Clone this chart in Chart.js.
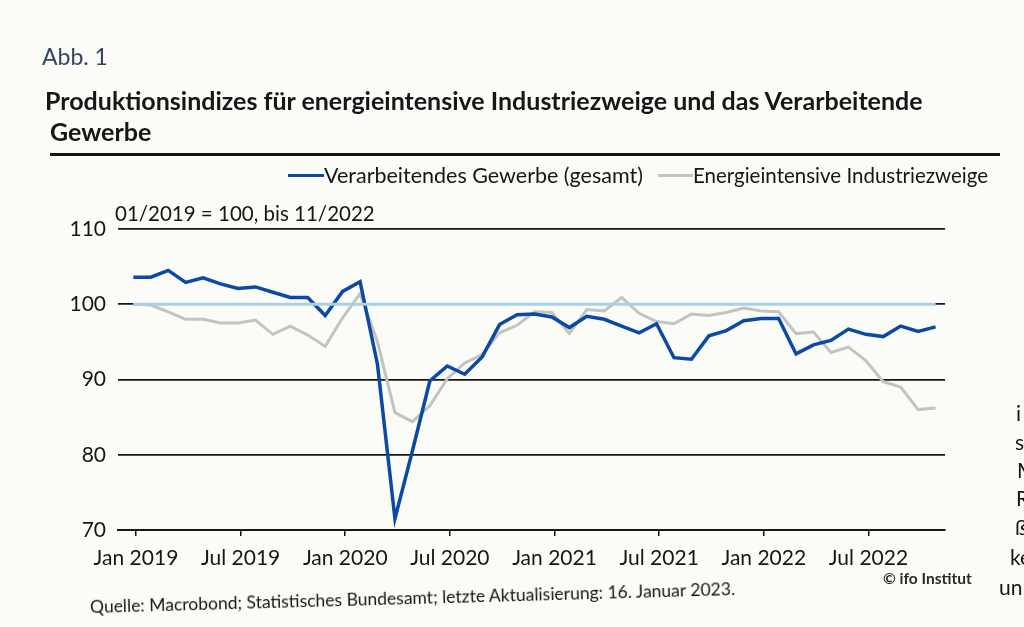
<!DOCTYPE html>
<html lang="de">
<head>
<meta charset="utf-8">
<title>Produktionsindizes</title>
<script src="https://cdn.jsdelivr.net/npm/chart.js@4.4.1/dist/chart.umd.min.js"></script>
<style>
  html, body { margin: 0; padding: 0; }
  body {
    width: 1024px; height: 627px; overflow: hidden; position: relative;
    background: #fbfbf8; font-family: Lato, "Noto Sans", sans-serif; color: #161616;
  }
  .txt { position: absolute; white-space: nowrap; line-height: 28px; }
  #chart { position: absolute; left: 0; top: 0; }
  .swatch { position: absolute; height: 3px; }
</style>
</head>
<body>
<canvas id="chart" width="1024" height="627"></canvas>

<div class="txt" style="left:42px; top:42px; font-size:23px; color:#34465f;">Abb. 1</div>
<div class="txt" style="left:45px; top:86px; font-size:25px; font-weight:bold;">Produktionsindizes für energieintensive Industriezweige und das Verarbeitende</div>
<div class="txt" style="left:50px; top:117px; font-size:25px; font-weight:bold;">Gewerbe</div>
<div style="position:absolute; left:50px; top:153px; width:950px; height:2.5px; background:#151515;"></div>

<div id="legend"></div>

<div class="txt" style="left:115px; top:199px; font-size:20.5px;">01/2019 = 100, bis 11/2022</div>

<div class="txt" style="left:90px; top:593px; font-size:17.5px; transform-origin:0 50%; transform:rotate(-1.6deg);">Quelle: Macrobond; Statistisches Bundesamt; letzte Aktualisierung: 16. Januar 2023.</div>
<div class="txt" style="left:883px; top:564px; font-size:15.5px; font-weight:bold; color:#2a2a2a;">© ifo Institut</div>

<div class="txt" style="left:1016px; top:399px; font-size:21px;">i</div>
<div class="txt" style="left:1015px; top:428px; font-size:21px;">s</div>
<div class="txt" style="left:1017px; top:456px; font-size:21px;">M</div>
<div class="txt" style="left:1016px; top:484px; font-size:21px;">R</div>
<div class="txt" style="left:1015px; top:513px; font-size:21px;">ß</div>
<div class="txt" style="left:1010px; top:543px; font-size:21px;">ke</div>
<div class="txt" style="left:999px; top:573px; font-size:21px;">un</div>

<script>
// Monthly data, 01/2019 = 100
const months = [
  "01/2019", "02/2019", "03/2019", "04/2019", "05/2019", "06/2019", "07/2019", "08/2019", "09/2019", "10/2019", "11/2019", "12/2019",
  "01/2020", "02/2020", "03/2020", "04/2020", "05/2020", "06/2020", "07/2020", "08/2020", "09/2020", "10/2020", "11/2020", "12/2020",
  "01/2021", "02/2021", "03/2021", "04/2021", "05/2021", "06/2021", "07/2021", "08/2021", "09/2021", "10/2021", "11/2021", "12/2021",
  "01/2022", "02/2022", "03/2022", "04/2022", "05/2022", "06/2022", "07/2022", "08/2022", "09/2022", "10/2022", "11/2022"
];

const gewerbe = [
  103.6, 103.6, 104.5, 102.9, 103.5, 102.7, 102.1, 102.3, 101.6, 100.9, 100.9, 98.5,
  101.7, 103.0, 92.0, 71.5, 80.5, 89.8, 91.8, 90.7, 93.0, 97.3, 98.6, 98.7,
  98.3, 96.9, 98.4, 98.0, 97.1, 96.2, 97.4, 92.9, 92.7, 95.8, 96.5, 97.8,
  98.1, 98.1, 93.4, 94.6, 95.2, 96.7, 96.0, 95.7, 97.1, 96.4, 97.0
];

const energie = [
  100.0, 99.9, 99.0, 98.0, 98.0, 97.5, 97.5, 97.9, 96.0, 97.1, 95.9, 94.4,
  98.2, 101.4, 95.0, 85.6, 84.4, 86.5, 90.1, 92.2, 93.3, 96.2, 97.2, 99.0,
  98.9, 96.1, 99.3, 99.1, 100.9, 98.8, 97.7, 97.4, 98.7, 98.5, 98.9, 99.5,
  99.1, 99.0, 96.1, 96.3, 93.6, 94.3, 92.5, 89.7, 89.0, 86.0, 86.2
];

const tickMonths = ["01/2019", "07/2019", "01/2020", "07/2020", "01/2021", "07/2021", "01/2022", "07/2022"];
const tickLabels = ["Jan 2019", "Jul 2019", "Jan 2020", "Jul 2020", "Jan 2021", "Jul 2021", "Jan 2022", "Jul 2022"];
const yTicks = [70, 80, 90, 100, 110];
const baseValue = 100;

const seriesNames = ["Verarbeitendes Gewerbe (gesamt)", "Energieintensive Industriezweige"];

const BLUE = "#0c48a6";
const GREY = "#c3c3c3";
const LIGHT = "#a8d0ea";
const INK = "#161616";
const FONT = "Lato, 'Noto Sans', sans-serif";

// legend in html: swatch start, text start, colour, font size
const legend = document.getElementById("legend");
[[288, 324, BLUE, 21.5], [658, 693, GREY, 20.5]].forEach(function (pos, i) {
    const sw = document.createElement("div");
    sw.className = "swatch";
    sw.style.cssText = "left:" + pos[0] + "px; top:174px; width:" + (pos[1] - pos[0]) + "px; background:" + pos[2] + ";";
    legend.appendChild(sw);
    const lb = document.createElement("div");
    lb.className = "txt";
    lb.style.cssText = "left:" + pos[1] + "px; top:161px; font-size:" + pos[3] + "px;";
    lb.textContent = seriesNames[i];
    legend.appendChild(lb);
});

const toPoints = arr => arr.map((v, i) => ({ x: i, y: v }));
const tickPos = tickMonths.map(m => months.indexOf(m) + 0.15);

const ctx = document.getElementById("chart").getContext("2d");
new Chart(ctx, {
    type: "line",
    data: {
        datasets: [
            { label: "Basis", data: [{ x: 0, y: baseValue }, { x: months.length - 1, y: baseValue }],
              borderColor: LIGHT, borderWidth: 3, pointRadius: 0, order: 0 },
            { label: seriesNames[0], data: toPoints(gewerbe), borderColor: BLUE, borderWidth: 3.5,
              pointRadius: 0, tension: 0, order: 1 },
            { label: seriesNames[1], data: toPoints(energie), borderColor: GREY, borderWidth: 3,
              pointRadius: 0, tension: 0, order: 2 }
        ]
    },
    options: {
        responsive: false,
        animation: false,
        layout: { padding: { top: 229, right: 79, bottom: 0, left: 0 } },
        plugins: { legend: { display: false }, tooltip: { enabled: false } },
        scales: {
            x: {
                type: "linear",
                min: -0.88,
                max: 46.54,
                afterFit: s => { s.height = 97; },
                afterBuildTicks: s => { s.ticks = tickPos.map(v => ({ value: v })); },
                ticks: {
                    callback: (v, i) => tickLabels[i],
                    color: INK, font: { family: FONT, size: 21 },
                    padding: 10, maxRotation: 0, autoSkip: false
                },
                grid: { drawOnChartArea: false, drawTicks: true, tickLength: 6, color: INK, lineWidth: 1.5 },
                border: { display: true, color: INK, width: 2 }
            },
            y: {
                min: 70,
                max: 110,
                afterFit: s => { s.width = 118; },
                afterBuildTicks: s => { s.ticks = yTicks.map(v => ({ value: v })); },
                ticks: { color: INK, font: { family: FONT, size: 21 }, padding: 12 },
                grid: { color: INK, lineWidth: 1.8, drawTicks: false },
                border: { display: false }
            }
        }
    }
});
</script>
</body>
</html>
